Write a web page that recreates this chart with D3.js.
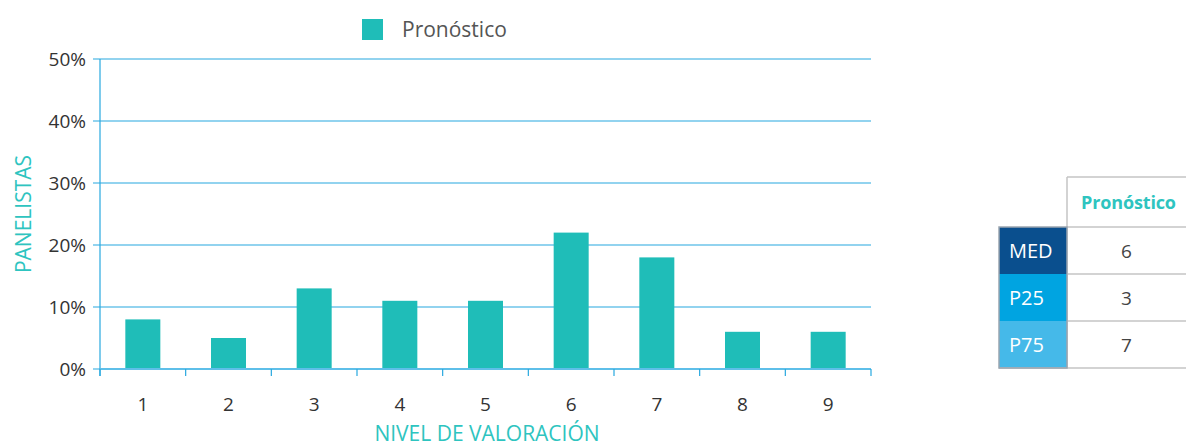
<!DOCTYPE html>
<html>
<head>
<meta charset="utf-8">
<script src="https://cdn.jsdelivr.net/npm/d3@7"></script>
<style>
  body { margin: 0; background: #fff; }
  svg { font-family: "Open Sans", sans-serif; }
</style>
</head>
<body>
<svg width="1186" height="446"></svg>
<script>
const categories = ['1', '2', '3', '4', '5', '6', '7', '8', '9'];
const values = [8, 5, 13, 11, 11, 22, 18, 6, 6];
const yTicks = [0, 10, 20, 30, 40, 50];
const seriesName = 'Pronóstico';
const tableRows = ['MED', 'P25', 'P75'];
const tableValues = [6, 3, 7];
const rowColors = ['#0a4f8e', '#00a4e1', '#45b9e9'];

const svg = d3.select('svg');
const margin = { left: 100, right: 315, top: 59, bottom: 77 };
const width = 1186 - margin.left - margin.right;
const height = 446 - margin.top - margin.bottom;
const g = svg.append('g').attr('transform', `translate(${margin.left},${margin.top})`);

const x = d3.scaleBand().domain(categories).range([0, width]);
const y = d3.scaleLinear().domain([0, 50]).range([height, 0]);

// gridlines
g.selectAll('.grid')
    .data(yTicks)
    .enter().append('line')
    .attr('x1', -7).attr('x2', width)
    .attr('y1', d => y(d)).attr('y2', d => y(d))
    .attr('stroke', '#27a8df').attr('stroke-width', 1.2);

// y axis line
g.append('line')
    .attr('x1', 0).attr('x2', 0).attr('y1', 0).attr('y2', height + 7)
    .attr('stroke', '#27a8df').attr('stroke-width', 1.2);

// bars
g.selectAll('.bar')
    .data(values)
    .enter().append('rect')
    .attr('x', (d, i) => x(categories[i]) + x.bandwidth() / 2 - 17.5)
    .attr('width', 35)
    .attr('y', d => y(d))
    .attr('height', d => height - y(d))
    .attr('fill', '#1fbdb8');

// bottom axis line and ticks
g.append('line')
    .attr('x1', 0).attr('x2', width).attr('y1', height).attr('y2', height)
    .attr('stroke', '#5ebfe9').attr('stroke-width', 2);
const bounds = categories.map(c => x(c)).concat([width]);
g.selectAll('.xtick')
    .data(bounds)
    .enter().append('line')
    .attr('x1', d => d).attr('x2', d => d)
    .attr('y1', height).attr('y2', height + 7)
    .attr('stroke', '#27a8df').attr('stroke-width', 1.2);

// labels
g.selectAll('.xlab')
    .data(categories)
    .enter().append('text')
    .attr('x', d => x(d) + x.bandwidth() / 2)
    .attr('y', height + 42)
    .attr('text-anchor', 'middle')
    .attr('font-size', 19).attr('fill', '#333')
    .text(d => d);

g.selectAll('.ylab')
    .data(yTicks)
    .enter().append('text')
    .attr('x', -14)
    .attr('y', d => y(d) + 7)
    .attr('text-anchor', 'end')
    .attr('font-size', 19).attr('fill', '#333')
    .text(d => d + '%');

// axis titles
svg.append('text')
    .attr('x', 487)
    .attr('y', 441)
    .attr('text-anchor', 'middle')
    .attr('font-size', 21).attr('fill', '#2ec4c0')
    .text('NIVEL DE VALORACIÓN');

svg.append('text')
    .attr('transform', 'translate(31,214) rotate(-90)')
    .attr('text-anchor', 'middle')
    .attr('font-size', 21).attr('fill', '#2ec4c0')
    .text('PANELISTAS');

// legend
svg.append('rect')
    .attr('x', 362).attr('y', 19).attr('width', 21).attr('height', 21)
    .attr('fill', '#1fbdb8');
svg.append('text')
    .attr('x', 402).attr('y', 37)
    .attr('font-size', 21).attr('fill', '#555')
    .text(seriesName);

// summary table
const tx0 = 999, tx1 = 1067, tx2 = 1186, ty0 = 177, rowH = 47;
const tg = svg.append('g');
tg.append('line').attr('x1', tx1).attr('x2', tx1).attr('y1', ty0).attr('y2', ty0 + 50 + rowH * 3)
    .attr('stroke', '#c4c4c4').attr('stroke-width', 1.5);
tg.append('line').attr('x1', tx1).attr('x2', tx2).attr('y1', ty0).attr('y2', ty0)
    .attr('stroke', '#c4c4c4').attr('stroke-width', 1.5);
tg.append('text')
    .attr('x', (tx1 + tx2) / 2 + 2).attr('y', ty0 + 32)
    .attr('text-anchor', 'middle')
    .attr('font-size', 18).attr('font-weight', 'bold').attr('fill', '#2ec4c0')
    .attr('textLength', 95)
    .text(seriesName);

tableRows.forEach((r, i) => {
    const yy = ty0 + 50 + i * rowH;
    tg.append('rect')
        .attr('x', tx0).attr('y', yy).attr('width', tx1 - tx0).attr('height', rowH)
        .attr('fill', rowColors[i]);
    tg.append('text')
        .attr('x', tx0 + 10).attr('y', yy + 31)
        .attr('font-size', 20).attr('fill', '#fff')
        .text(r);
    tg.append('text')
        .attr('x', (tx1 + tx2) / 2).attr('y', yy + 31)
        .attr('text-anchor', 'middle')
        .attr('font-size', 19).attr('fill', '#444')
        .text(tableValues[i]);
    tg.append('line')
        .attr('x1', tx1).attr('x2', tx2).attr('y1', yy).attr('y2', yy)
        .attr('stroke', '#c4c4c4').attr('stroke-width', 1.5);
});
const yEnd = ty0 + 50 + rowH * 3;
tg.append('line').attr('x1', tx0).attr('x2', tx2).attr('y1', yEnd).attr('y2', yEnd)
    .attr('stroke', '#c4c4c4').attr('stroke-width', 1.5);
tg.append('rect')
    .attr('x', tx0).attr('y', ty0 + 50).attr('width', tx1 - tx0).attr('height', rowH * 3)
    .attr('fill', 'none').attr('stroke', '#9aa5b0').attr('stroke-width', 1.5);
</script>
</body>
</html>
